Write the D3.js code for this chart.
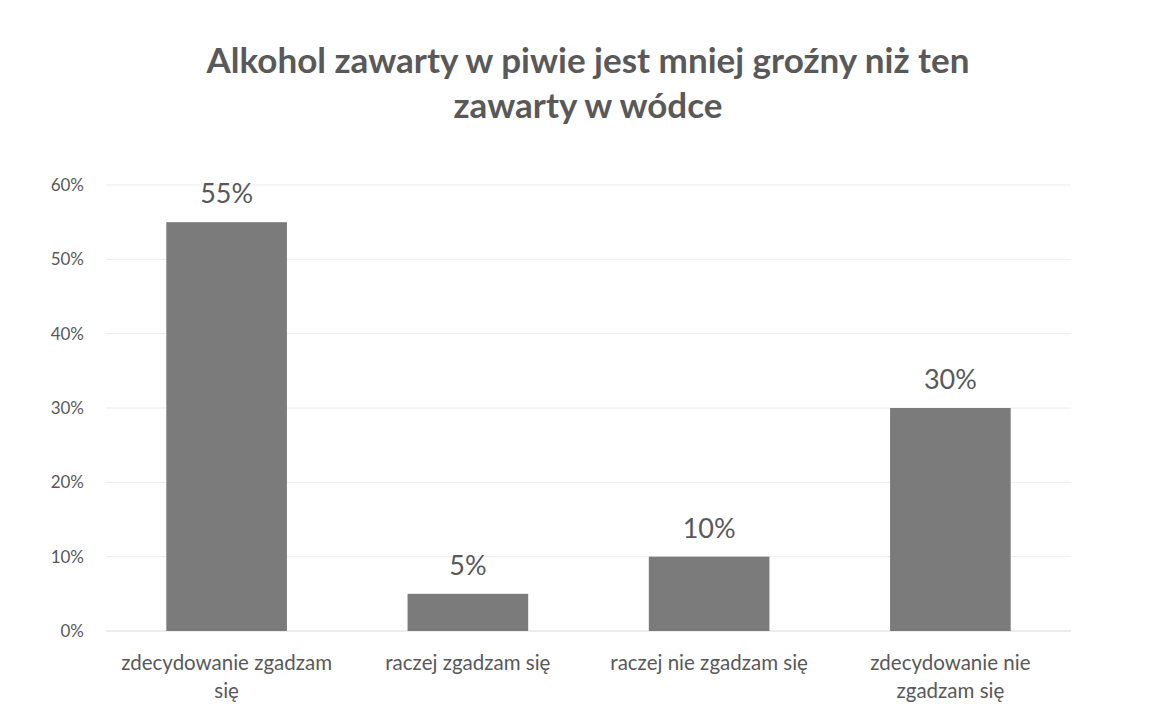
<!DOCTYPE html>
<html><head><meta charset="utf-8">
<script src="https://cdn.jsdelivr.net/npm/d3@7/dist/d3.min.js"></script>
<style>body{margin:0;background:#fff;}svg{display:block;}</style>
</head><body>
<script>
const categories = [["zdecydowanie zgadzam","się"],["raczej zgadzam się"],["raczej nie zgadzam się"],["zdecydowanie nie","zgadzam się"]];
const values = [0.55, 0.05, 0.10, 0.30];
const tickValues = [0, 0.1, 0.2, 0.3, 0.4, 0.5, 0.6];
const titleLines = ["Alkohol zawarty w piwie jest mniej groźny niż ten","zawarty w wódce"];

const W = 1165, H = 704;
const svg = d3.select("body").append("svg").attr("width", W).attr("height", H);
const font = "Lato, 'Open Sans', sans-serif";
const x = d3.scaleBand().domain(d3.range(categories.length)).range([106, 1071]).paddingInner(0.5).paddingOuter(0.25);
const y = d3.scaleLinear().domain([0, 0.6]).range([631, 185]);

svg.append("g").selectAll("line").data(tickValues).join("line")
  .attr("x1", 106).attr("x2", 1071)
  .attr("y1", d => y(d)).attr("y2", d => y(d))
  .attr("stroke", d => d === 0 ? "#d9d9d9" : "#ececec").attr("stroke-width", 1);

svg.append("g").selectAll("text").data(tickValues).join("text")
  .attr("x", 84).attr("y", d => y(d)).attr("dy", "0.35em")
  .attr("text-anchor", "end").attr("font-family", font).attr("font-size", 17)
  .attr("fill", "#595959").text(d => d3.format(".0%")(d));

svg.append("g").selectAll("rect").data(values).join("rect")
  .attr("x", (d,i) => x(i)).attr("width", x.bandwidth())
  .attr("y", d => y(d)).attr("height", d => y(0) - y(d))
  .attr("fill", "#7b7b7b");

svg.append("g").selectAll("text").data(values).join("text")
  .attr("x", (d,i) => x(i) + x.bandwidth()/2).attr("y", d => y(d) - 19)
  .attr("text-anchor", "middle").attr("font-family", font).attr("font-size", 27)
  .attr("fill", "#595959").text(d => d3.format(".0%")(d));

const cat = svg.append("g").selectAll("text").data(categories).join("text")
  .attr("x", (d,i) => x(i) + x.bandwidth()/2).attr("y", 670)
  .attr("text-anchor", "middle").attr("font-family", font).attr("font-size", 20.5)
  .attr("fill", "#595959");
cat.selectAll("tspan").data(d => d).join("tspan")
  .attr("x", function(){ return this.parentNode.getAttribute("x"); })
  .attr("dy", (d,i) => i === 0 ? 0 : 28).text(d => d);

svg.append("g").selectAll("text").data(titleLines).join("text")
  .attr("x", 588).attr("y", (d,i) => 73 + i*45)
  .attr("text-anchor", "middle").attr("font-family", font).attr("font-size", 35)
  .attr("font-weight", "bold").attr("fill", "#595959").text(d => d);
</script>
</body></html>
